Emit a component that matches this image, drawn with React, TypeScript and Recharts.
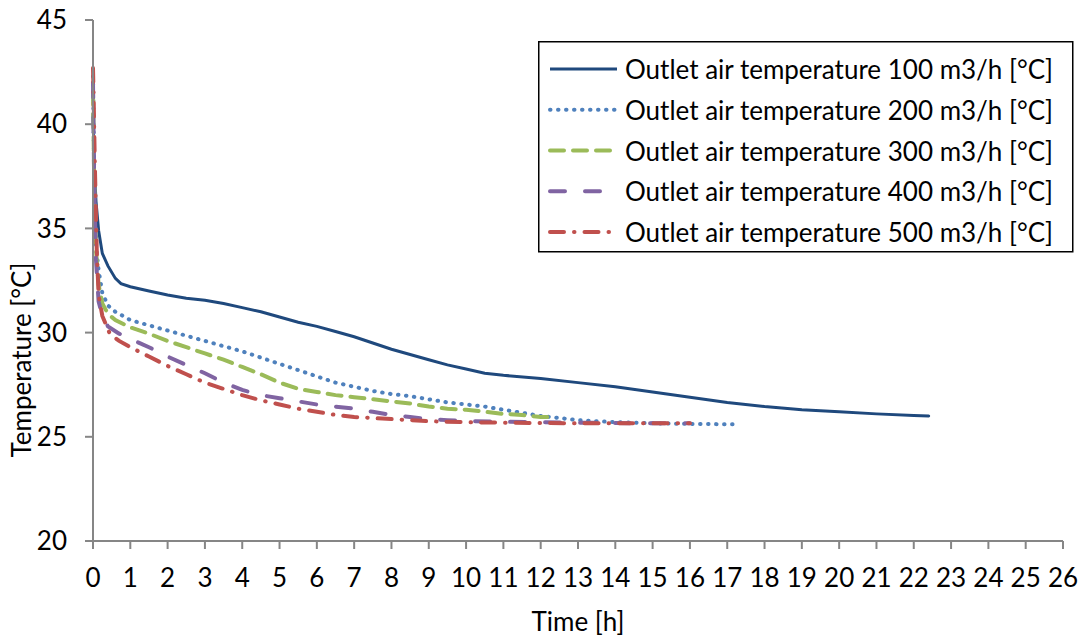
import React from 'react';
import { LineChart, Line, XAxis, YAxis, Legend } from 'recharts';

// time [h] and outlet air temperature [°C] per airflow rate
const time100 = [0, 0.03, 0.08, 0.15, 0.25, 0.4, 0.6, 0.75, 1, 1.5, 2, 2.5, 3, 3.5, 4, 4.5, 5, 5.5, 6, 6.5, 7, 7.5, 8, 8.5, 9, 9.5, 10, 10.5, 11, 12, 13, 14, 15, 16, 17, 18, 19, 20, 21, 22, 22.4];
const temp100 = [40.5, 38.2, 36.3, 34.9, 33.8, 33.2, 32.6, 32.35, 32.2, 32.0, 31.8, 31.65, 31.55, 31.4, 31.2, 31.0, 30.75, 30.5, 30.3, 30.05, 29.8, 29.5, 29.2, 28.95, 28.7, 28.45, 28.25, 28.05, 27.95, 27.8, 27.6, 27.4, 27.15, 26.9, 26.65, 26.45, 26.3, 26.2, 26.1, 26.02, 26.0];

const time200 = [0, 0.03, 0.08, 0.15, 0.25, 0.4, 0.6, 0.8, 1, 1.5, 2, 2.5, 3, 3.5, 4, 4.5, 5, 5.5, 6, 6.5, 7, 7.5, 8, 8.5, 9, 9.5, 10, 10.5, 11, 11.5, 12, 12.5, 13, 13.5, 14, 15, 16, 17.2];
const temp200 = [42.3, 38.0, 34.2, 33.0, 31.9, 31.3, 31.0, 30.8, 30.6, 30.35, 30.1, 29.85, 29.6, 29.35, 29.1, 28.8, 28.5, 28.2, 27.9, 27.6, 27.4, 27.2, 27.05, 26.95, 26.8, 26.65, 26.55, 26.45, 26.3, 26.15, 26.0, 25.9, 25.8, 25.75, 25.7, 25.65, 25.62, 25.6];

const time300 = [0, 0.03, 0.08, 0.15, 0.25, 0.4, 0.6, 1, 1.5, 2, 2.5, 3, 3.5, 4, 4.5, 5, 5.5, 6, 6.5, 7, 7.5, 8, 8.5, 9, 9.5, 10, 10.5, 11, 11.5, 12, 12.2];
const temp300 = [41.6, 37.5, 34.0, 32.3, 31.4, 30.9, 30.6, 30.25, 29.95, 29.6, 29.3, 29.0, 28.7, 28.35, 28.0, 27.6, 27.3, 27.15, 27.0, 26.9, 26.8, 26.7, 26.6, 26.45, 26.35, 26.3, 26.2, 26.1, 26.05, 25.95, 25.95];

const time400 = [0, 0.03, 0.08, 0.15, 0.25, 0.4, 0.7, 1, 1.5, 2, 2.5, 3, 3.5, 4, 4.5, 5, 5.5, 6, 6.5, 7, 7.5, 8, 8.5, 9, 9.5, 10, 11, 12, 13, 14, 15, 16];
const temp400 = [42.0, 37.5, 33.5, 31.5, 30.8, 30.3, 29.95, 29.7, 29.3, 28.85, 28.45, 28.05, 27.6, 27.25, 27.0, 26.85, 26.7, 26.55, 26.45, 26.35, 26.2, 26.05, 25.95, 25.85, 25.8, 25.75, 25.72, 25.7, 25.68, 25.66, 25.65, 25.65];

const time500 = [0, 0.02, 0.05, 0.1, 0.15, 0.25, 0.45, 0.7, 1, 1.5, 2, 2.5, 3, 3.5, 4, 4.5, 5, 5.5, 6, 6.5, 7, 7.5, 8, 8.5, 9, 10, 11, 12, 13, 14, 15, 16];
const temp500 = [42.7, 41.0, 38.0, 34.0, 31.8, 30.8, 29.95, 29.6, 29.3, 28.85, 28.4, 28.0, 27.6, 27.3, 27.0, 26.75, 26.55, 26.35, 26.2, 26.05, 25.95, 25.9, 25.85, 25.8, 25.75, 25.7, 25.68, 25.66, 25.65, 25.65, 25.65, 25.65];

const xTicks = [0, 1, 2, 3, 4, 5, 6, 7, 8, 9, 10, 11, 12, 13, 14, 15, 16, 17, 18, 19, 20, 21, 22, 23, 24, 25, 26];
const yTicks = [20, 25, 30, 35, 40, 45];

const toPoints = (ts: number[], vs: number[]) => ts.map((t, i) => ({ t, v: vs[i] }));

const series = [
  { name: 'Outlet air temperature 100 m3/h [°C]', data: toPoints(time100, temp100), color: '#1F497D', width: 3, dash: undefined },
  { name: 'Outlet air temperature 200 m3/h [°C]', data: toPoints(time200, temp200), color: '#4F81BD', width: 4, dash: '0.5 7.5' },
  { name: 'Outlet air temperature 300 m3/h [°C]', data: toPoints(time300, temp300), color: '#9BBB59', width: 4, dash: '14 9' },
  { name: 'Outlet air temperature 400 m3/h [°C]', data: toPoints(time400, temp400), color: '#8064A2', width: 4, dash: '15 20' },
  { name: 'Outlet air temperature 500 m3/h [°C]', data: toPoints(time500, temp500), color: '#C0504D', width: 4, dash: '14 10 0.5 10' },
];

const FONT = 'Lato, "Open Sans", sans-serif';
const FS = 26;
const AXIS = '#868686';

const LegendBox = () => (
  <svg width={536} height={212} style={{ display: 'block' }}>
    <rect x={0.75} y={0.75} width={534} height={210} fill="#fff" stroke="#000" strokeWidth={1.5} />
    {series.map((s, i) => {
      const y = 28 + i * 40.75;
      return (
        <g key={s.name}>
          <line x1={12} x2={79} y1={y} y2={y} stroke={s.color} strokeWidth={s.width}
            strokeDasharray={s.dash} strokeLinecap={s.dash ? 'round' : 'butt'} />
          <text x={87} y={y + 10} fontSize={FS} fontFamily={FONT} fill="#000">{s.name}</text>
        </g>
      );
    })}
  </svg>
);

export default function App() {
  return (
    <div style={{ position: 'absolute', left: 0, top: 0, background: '#fff' }}>
      <LineChart width={1083} height={639} margin={{ top: 20, right: 20, bottom: 0, left: 0 }}>
        <XAxis
          dataKey="t"
          type="number"
          domain={[0, 26]}
          ticks={xTicks}
          interval={0}
          height={98}
          stroke={AXIS}
          strokeWidth={2}
          tickSize={8}
          tickMargin={20}
          tick={{ fill: '#000', fontSize: FS, fontFamily: FONT }}
          label={{
            content: () => (
              <text x={578} y={631} textAnchor="middle" fontSize={FS} fontFamily={FONT} fill="#000">Time [h]</text>
            ),
          }}
        />
        <YAxis
          type="number"
          domain={[20, 45]}
          ticks={yTicks}
          interval={0}
          width={93}
          stroke={AXIS}
          strokeWidth={2}
          tickSize={8}
          tickMargin={18}
          tick={{ fill: '#000', fontSize: FS, fontFamily: FONT }}
          label={{
            content: () => (
              <text x={31} y={360} transform="rotate(-90, 31, 360)" textAnchor="middle" fontSize={FS} fontFamily={FONT} fill="#000">
                Temperature [°C]
              </text>
            ),
          }}
        />
        {series.map((s) => (
          <Line
            key={s.name}
            name={s.name}
            data={s.data}
            dataKey="v"
            type="linear"
            stroke={s.color}
            strokeWidth={s.width}
            strokeDasharray={s.dash}
            strokeLinecap="round"
            dot={false}
            isAnimationActive={false}
          />
        ))}
        <Legend
          layout="vertical"
          align="center"
          verticalAlign="middle"
          wrapperStyle={{ left: 538, top: 41, width: 536, height: 212 }}
          content={() => <LegendBox />}
        />
      </LineChart>
    </div>
  );
}
